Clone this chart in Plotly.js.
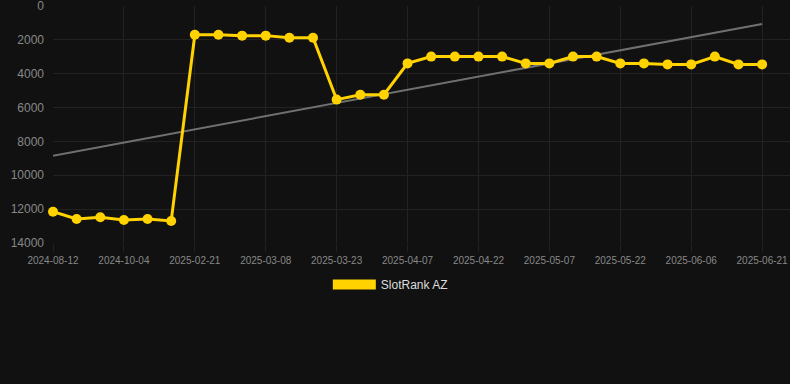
<!DOCTYPE html>
<html>
<head>
<meta charset="utf-8">
<script src="https://cdn.plot.ly/plotly-3.0.1.min.js"></script>
<style>
html,body{margin:0;padding:0;background:#111111;}
#chart{width:790px;height:384px;}
</style>
</head>
<body>
<div id="chart"></div>
<script>
const dates = [
  "2024-08-12","2024-08-30","2024-09-17","2024-10-04","2024-11-20","2025-01-05",
  "2025-02-21","2025-02-26","2025-03-03","2025-03-08","2025-03-13","2025-03-18",
  "2025-03-23","2025-03-28","2025-04-02","2025-04-07","2025-04-12","2025-04-17",
  "2025-04-22","2025-04-27","2025-05-02","2025-05-07","2025-05-12","2025-05-17",
  "2025-05-22","2025-05-27","2025-06-01","2025-06-06","2025-06-11","2025-06-16",
  "2025-06-21"
];
const rank = [
  12150,12580,12480,12640,12580,12700,
  1700,1700,1750,1750,1880,1880,
  5530,5240,5240,3390,2990,2990,
  2990,2990,3390,3390,2990,2990,
  3390,3390,3450,3450,2990,3450,
  3450
];
const trendX = [dates[0], dates[dates.length-1]];
const trendY = [8840, 1060];
const seriesName = "SlotRank AZ";
const tickDates = dates.filter((d,i)=>i%3===0);
const yTicks = [0,2000,4000,6000,8000,10000,12000,14000];

const yellow = "#FFD200";
const data = [
  {x: trendX, y: trendY, type: "scatter", mode: "lines",
   line: {color: "#707070", width: 2}, showlegend: false, hoverinfo: "skip", cliponaxis: false},
  {x: dates, y: rank, type: "scatter", mode: "lines+markers", name: seriesName,
   line: {color: yellow, width: 3}, marker: {color: yellow, size: 10},
   showlegend: false, cliponaxis: false},
  {x: [null], y: [null], type: "scatter", mode: "lines", name: seriesName,
   line: {color: yellow, width: 11}, showlegend: true, hoverinfo: "skip"}
];
const layout = {
  width: 790, height: 384,
  paper_bgcolor: "#111111", plot_bgcolor: "#111111",
  margin: {l: 53, r: 0, t: 6, b: 141},
  font: {family: "Liberation Sans, Arial, sans-serif", color: "#888888"},
  xaxis: {
    type: "category", categoryorder: "array", categoryarray: dates,
    range: [0, 31.18],
    tickmode: "array", tickvals: tickDates, ticktext: tickDates,
    tickfont: {size: 10, color: "#888888"},
    showgrid: true, gridcolor: "#222222", gridwidth: 1,
    ticks: "outside", ticklen: 8, tickcolor: "#222222",
    zeroline: false, showline: false
  },
  yaxis: {
    range: [14000, 0], tickmode: "array", tickvals: yTicks, ticktext: yTicks.map(String),
    tickfont: {size: 12, color: "#888888"}, ticklabeloverflow: "allow",
    showgrid: true, gridcolor: "#222222", gridwidth: 1,
    zeroline: false, showline: false, ticks: "", ticklabelstandoff: 8
  },
  showlegend: true,
  legend: {orientation: "h", x: 0.4577, xanchor: "center", y: -0.175, yanchor: "middle",
           font: {size: 12, color: "#dddddd"}, bgcolor: "rgba(0,0,0,0)", itemwidth: 43}
};
Plotly.newPlot("chart", data, layout, {displayModeBar: false, staticPlot: true});
</script>
</body>
</html>
